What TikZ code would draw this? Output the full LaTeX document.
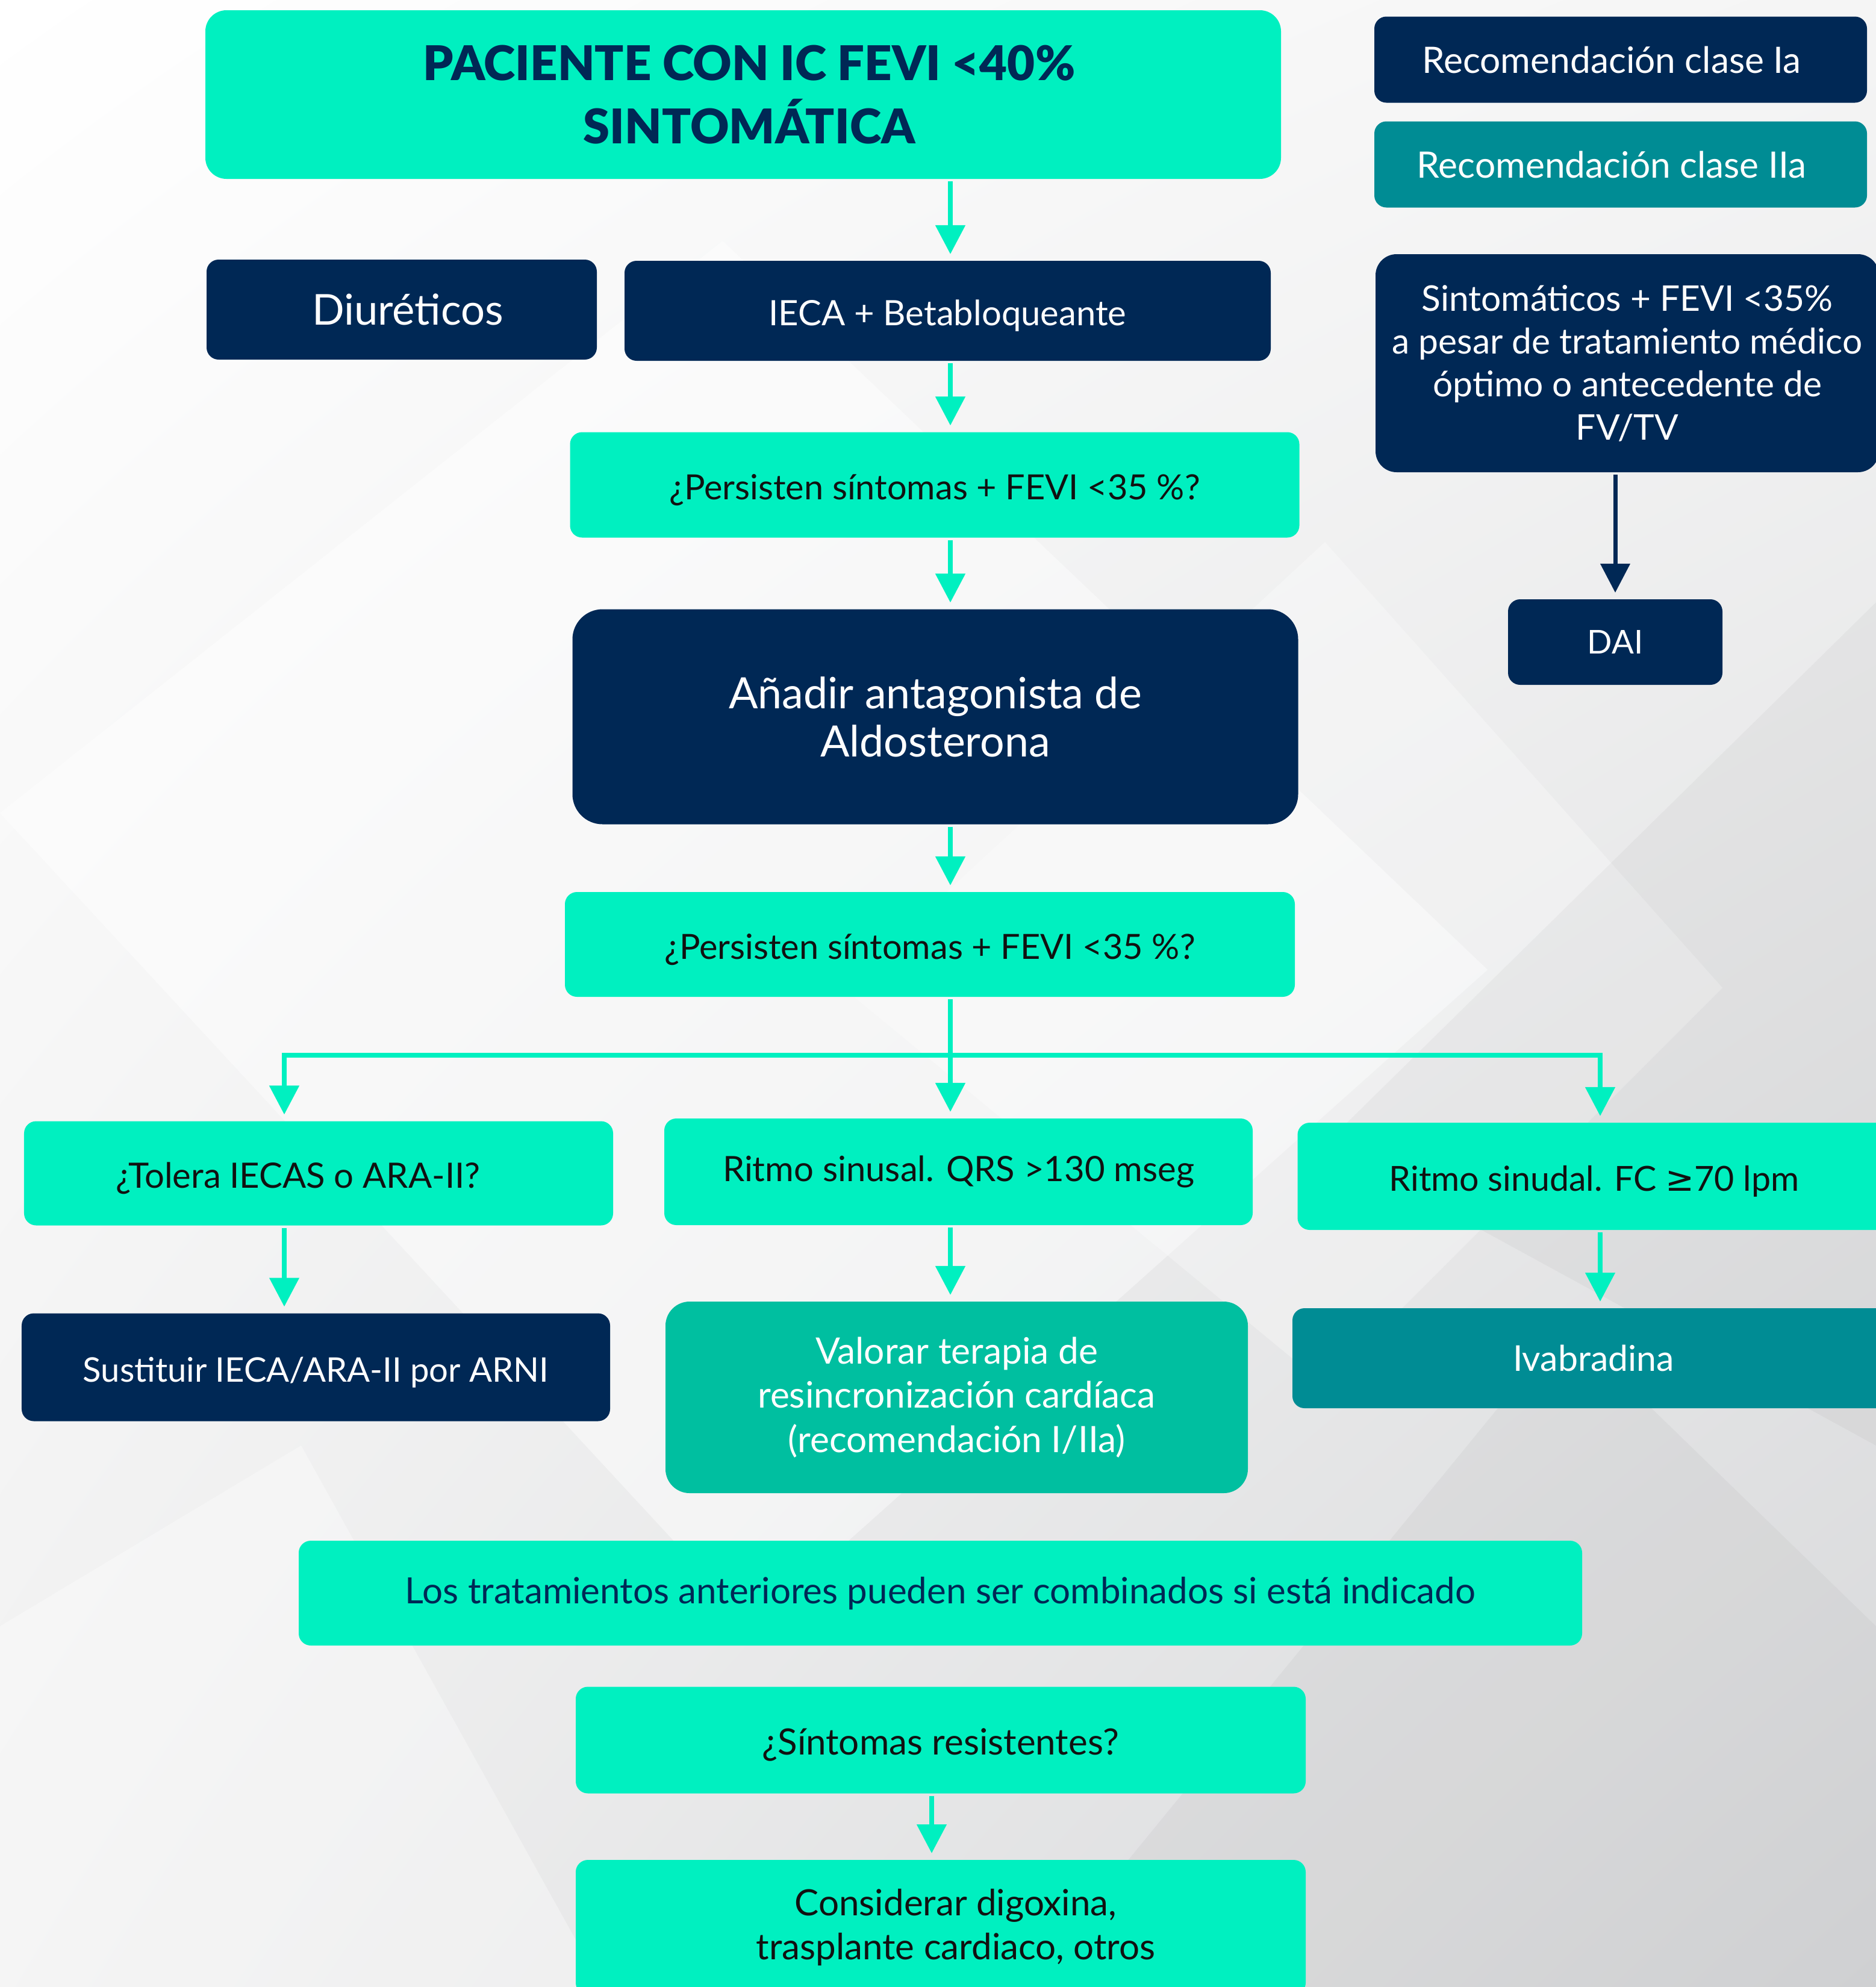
\documentclass[tikz,border=0pt]{standalone}
\usepackage{fontspec}
\setmainfont{Lato}
\newfontfamily\heavyfont{Lato Black}
\newfontfamily\symbfont{DejaVu Sans}
\usepackage{tikz}
\usetikzlibrary{arrows.meta,positioning,shadings}

\definecolor{mint}{HTML}{00F0C0}
\definecolor{navy}{HTML}{002855}
\definecolor{petrol}{HTML}{008C94}
\definecolor{crtgreen}{HTML}{00BFA0}
\definecolor{ink}{HTML}{111111}
\definecolor{bggrey}{HTML}{D6D7D9}

\newcommand{\fs}[1]{\fontsize{#1}{20.3}\selectfont}

\begin{document}
\begin{tikzpicture}[>={Triangle[width=0.48cm,length=0.48cm]}, shorten >=2pt, line width=0.08cm,
  box/.style={rounded corners=0.2cm, align=center, inner sep=0pt, font=\fs{16.4}},
  green box/.style={box, fill=mint, text=ink},
  navy box/.style={box, fill=navy, text=white},
  petrol box/.style={box, fill=petrol, text=white},
  crt box/.style={box, fill=crtgreen, text=white},
  big/.style={font=\fontsize{20.4}{22.7}\selectfont},
  oneline/.style={text height=18pt, text depth=4pt},
  size/.style 2 args={minimum width=#1cm, minimum height=#2cm}]

\useasboundingbox (0,0) rectangle (31.15,-32.99);
\clip (0,0) rectangle (31.15,-32.99);

% background
\shade[upper left=white, upper right=white!96!black, lower left=white!94!black, lower right=bggrey]
  (0,0) rectangle (31.15,-32.99);
\fill[white, opacity=0.45] (0,-13.5) -- (12,-4) -- (24.7,-16.1) -- (12.5,-27) -- cycle;
\fill[white, opacity=0.30] (14,-16.4) -- (22,-9) -- (28.6,-16.4) -- (22,-23) -- cycle;
\fill[black, opacity=0.03] (17,-33) -- (26,-22) -- (31.15,-27) -- (31.15,-33) -- cycle;
\fill[black, opacity=0.03] (22,-19) -- (31.15,-10) -- (31.15,-24) -- cycle;
\fill[white, opacity=0.35] (0,-27) -- (5,-24) -- (10,-33) -- (0,-33) -- cycle;

% top of the chart
\node[box, fill=mint, text=navy, size={17.86}{2.80}, rounded corners=0.35cm,
  font=\heavyfont\fontsize{22.6}{30}\selectfont] (paciente) at (12.34,-1.57)
  {\hspace*{0.2cm}PACIENTE CON IC FEVI <40\%\\\hspace*{0.2cm}SINTOMÁTICA};

\node[navy box, font=\fs{17.2}, size={8.18}{1.43}] (claseI) at (26.91,-0.99) {Recomendación clase Ia\hspace*{0.3cm}};
\node[petrol box, font=\fs{17.2}, size={8.18}{1.43}] (claseIIa) at (26.91,-2.73) {Recomendación clase IIa\hspace*{0.3cm}};

\node[navy box, font=\fs{16.7}, size={8.36}{3.62}, rounded corners=0.35cm] (sintomaticos) at (27.02,-6.03)
  {Sintomáticos + FEVI <35\%\\a pesar de tratamiento médico\\óptimo o antecedente de\\FV/TV};
\node[navy box, font=\fs{15.5}, size={3.56}{1.42}] (dai) at (26.82,-10.66) {DAI};

\node[navy box, font=\fs{20.1}, size={6.48}{1.66}] (diureticos) at (6.67,-5.14) {\hspace*{0.2cm}Diuréticos};
\node[navy box, oneline, font=\fs{16.5}, size={10.73}{1.66}] (ieca) at (15.735,-5.16) {IECA + Betabloqueante};
\node[green box, oneline, size={12.11}{1.75}] (persiste1) at (15.52,-8.05) {¿Persisten síntomas + FEVI <35 \%?};
\node[navy box, big, size={12.05}{3.57}, rounded corners=0.5cm] (aldosterona) at (15.53,-11.90)
  {Añadir antagonista de\\Aldosterona};
\node[green box, oneline, size={12.12}{1.74}] (persiste2) at (15.44,-15.68) {¿Persisten síntomas + FEVI <35 \%?};

% three branches
\node[green box, oneline, font=\fs{16.5}, size={9.78}{1.73}] (tolera) at (5.29,-19.48) {¿Tolera IECAS o ARA-II?\hspace*{0.68cm}};
\node[green box, font=\fs{16.5}, size={9.77}{1.77}] (qrs) at (15.915,-19.455) {Ritmo sinusal. QRS >130 mseg};
\node[green box, oneline, font=\fs{16.3}, size={9.85}{1.78}] (fc) at (26.47,-19.53) {Ritmo sinudal. FC {\symbfont ≥}70 lpm};

\node[navy box, oneline, font=\fs{16}, size={9.77}{1.79}] (arni) at (5.245,-22.70) {Sustituir IECA/ARA-II por ARNI};
\node[crt box, font=\fontsize{17.2}{21}\selectfont, size={9.67}{3.18}, rounded corners=0.4cm] (resinc) at (15.885,-23.20)
  {Valorar terapia de\\resincronización cardíaca\\(recomendación I/IIa)};
\node[petrol box, font=\fs{16.8}, size={10.0}{1.66}] (ivabradina) at (26.46,-22.55) {Ivabradina};

% bottom of the chart
\node[green box, text=navy, font=\fs{17.1}, size={21.31}{1.74}] (combinados) at (15.615,-26.45)
  {Los tratamientos anteriores pueden ser combinados si está indicado};
\node[green box, oneline, font=\fs{17.1}, size={12.12}{1.77}] (resistentes) at (15.62,-28.89) {¿Síntomas resistentes?};
\node[green box, font=\fontsize{17.1}{21}\selectfont, size={12.12}{2.24}] (digoxina) at (15.62,-32.0)
  {\hspace*{0.5cm}Considerar digoxina,\\\hspace*{0.5cm}trasplante cardiaco, otros};

\coordinate (fork) at (15.78,-17.52);
\coordinate (forkL) at (4.72,-17.52);
\coordinate (forkR) at (26.57,-17.52);

\begin{scope}[every edge/.style={draw=mint, ->}]
\path
(paciente.south -| fork) edge (ieca.north -| fork)
(ieca.south -| fork) edge (persiste1.north -| fork)
(persiste1.south -| fork) edge (aldosterona.north -| fork)
(aldosterona.south -| fork) edge (persiste2.north -| fork)
(persiste2.south -| fork) edge (qrs.north -| fork)

(tolera.south -| forkL) edge (arni.north -| forkL)
(qrs.south -| fork) edge (resinc.north -| fork)
(fc.south -| forkR) edge (ivabradina.north -| forkR)

([xshift=-0.15cm]resistentes.south) edge ([xshift=-0.15cm]digoxina.north);
\end{scope}

\draw[mint, ->] (fork) -| (tolera.north -| forkL);
\draw[mint, ->] (fork) -| (fc.north -| forkR);

\draw[navy, line width=0.07cm, ->] (sintomaticos.south -| dai) -- (dai.north);

\end{tikzpicture}
\end{document}
